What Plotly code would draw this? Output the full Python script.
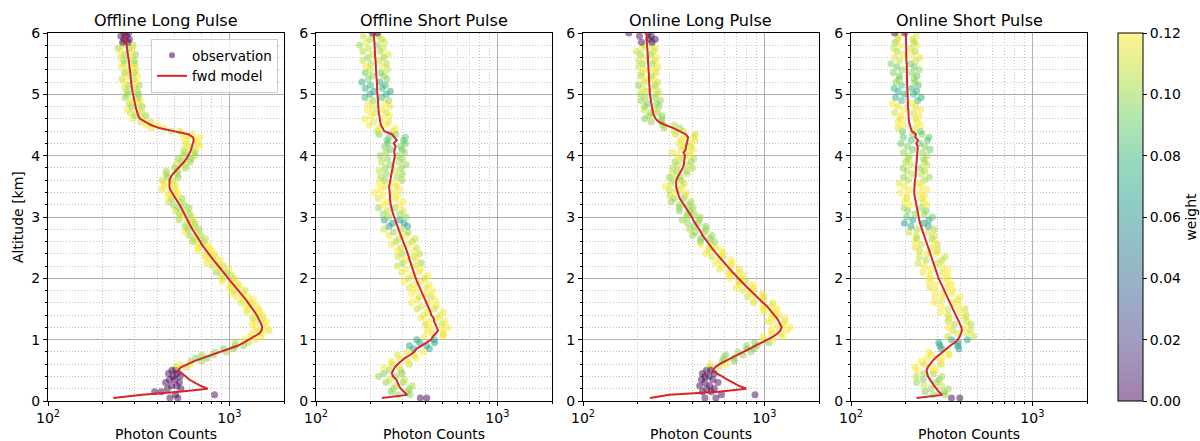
import math
import plotly.graph_objects as go

# ---------------- data ----------------
ALT = [round(0.05 * i, 2) for i in range(1, 121)]  # altitude bins [km], 0.05 .. 6.00

TITLES = ["Offline Long Pulse", "Offline Short Pulse", "Online Long Pulse", "Online Short Pulse"]

# forward model (photon counts) per panel
M1 = [229,330,530,760,690,640,600,575,545,522,
      540,585,640,710,790,880,1000,1110,1200,1280,
      1390,1460,1505,1515,1500,1475,1445,1415,1380,1345,
      1310,1270,1235,1195,1155,1120,1080,1045,1010,985,
      958,930,902,875,843,815,790,768,745,722,
      705,690,672,655,640,625,612,600,588,577,
      565,555,545,532,518,505,494,480,471,467,
      466,468,475,487,505,525,545,563,580,595,
      605,615,622,628,636,630,594,493,410,370,
      345,322,315,310,307,304,301,298,295,293,
      292,290,289,288,287,286,284,283,282,280,
      279,277,276,274,273,271,270,268,267,265]
O1A = [470,828,387,455,480,445,500,490,462,505,
       508,532,614,653,703,836,930,1077,1080,1203,
       1307,1329,1445,1394,1335,1401,1344,1373,1242,1264,
       1231,1156,1186,1099,1028,1064,1004,1014,909,926,
       901,846,866,805,750,774,735,745,671,679,
       663,628,645,603,570,594,569,582,529,542,
       531,505,523,489,461,480,459,466,424,439,
       438,426,456,448,449,499,507,546,522,559,
       569,560,597,578,566,599,552,478,369,348,
       324,293,302,285,273,289,280,289,266,275,
       274,264,277,265,255,272,264,275,254,263,
       262,252,265,252,243,257,258,262,252,263]
O1B = [520,505,421,540,512,530,468,535,515,482,
       578,608,704,753,814,959,1050,1199,1272,1382,
       1487,1518,1656,1606,1545,1608,1517,1528,1463,1453,
       1402,1321,1359,1267,1190,1221,1134,1129,1071,1064,
       1025,967,992,928,868,888,830,829,790,780,
       754,718,739,694,659,681,643,648,623,623,
       605,577,600,564,534,550,519,518,499,504,
       499,487,523,516,520,572,572,608,615,643,
       647,640,684,666,655,687,624,532,435,400,
       369,335,347,329,316,331,316,322,313,316,
       312,302,318,305,296,312,298,306,299,302,
       299,288,304,290,281,295,276,281,271,278]
W1 = [0,0,0,0,0,0,0,0,0,0,
      .11,.12,.10,.095,.10,.10,.095,.10,.105,.12,
      .12,.12,.115,.12,.12,.12,.11,.12,.115,.12,
      .12,.115,.12,.12,.12,.11,.12,.12,.12,.115,
      .11,.10,.12,.11,.12,.12,.115,.12,.12,.12,
      .12,.10,.11,.10,.12,.10,.10,.11,.10,.12,
      .10,.11,.10,.10,.11,.10,.12,.12,.115,.12,
      .12,.11,.10,.10,.105,.10,.11,.10,.10,.105,
      .10,.11,.12,.115,.12,.12,.12,.11,.12,.12,
      .11,.12,.10,.11,.12,.10,.11,.12,.10,.10,
      .10,.115,.10,.12,.11,.12,.10,.115,.12,.11,
      .10,.115,.10,.12,.105,.11,0,0,0,0]

M2 = [231,318,305,293,287,283,277,266,262,266,
      272,282,295,309,330,347,358,380,405,432,
      440,458,470,462,455,448,445,432,428,420,
      414,405,400,392,386,380,372,366,360,355,
      350,345,340,337,333,328,325,321,318,312,
      307,303,298,293,290,285,281,278,273,270,
      266,263,260,258,257,256,254,253,252,253,
      255,257,258,260,262,264,266,268,270,272,
      270,271,275,268,279,270,262,238,232,228,
      226,224,223,222,221,221,220,219,219,218,
      218,217,217,216,216,215,215,214,214,213,
      213,212,212,211,211,210,210,209,209,208]
O2A = [376,282,259,267,276,243,255,221,236,253,
       237,262,260,290,281,316,344,327,373,359,
       396,435,409,430,400,421,378,393,411,361,
       381,336,360,372,336,353,327,344,306,323,
       336,297,313,280,300,312,283,299,280,293,
       261,276,286,252,267,237,253,264,238,251,
       234,247,221,235,247,220,234,210,227,240,
       222,239,227,244,223,240,255,230,248,226,
       243,257,239,249,246,254,223,217,223,196,
       208,186,201,211,192,206,194,206,186,198,
       209,187,200,179,194,204,187,199,188,200,
       181,193,204,181,194,174,189,199,182,205]
O2B = [408,330,320,328,339,303,307,277,299,293,
       288,327,322,355,347,389,422,407,450,449,
       502,504,498,536,496,515,467,484,505,449,
       460,421,456,431,409,441,405,421,378,398,
       413,369,377,350,380,361,345,372,347,359,
       322,339,352,314,322,296,320,306,289,313,
       290,302,273,289,303,274,282,263,287,278,
       270,298,281,299,275,296,314,287,300,283,
       308,298,292,311,304,311,275,267,274,244,
       251,233,254,244,234,256,240,252,230,244,
       257,232,241,225,246,237,228,248,233,245,
       224,237,250,226,234,218,239,230,222,218]
W2 = [0,.10,.095,.10,.105,.10,.11,.10,.095,.10,
      .12,.11,.12,.12,.115,.12,.07,.068,.065,.07,
      .12,.115,.12,.12,.11,.12,.12,.115,.12,.11,
      .115,.12,.12,.11,.12,.12,.115,.12,.12,.11,
      .12,.115,.12,.11,.10,.12,.11,.105,.12,.11,
      .12,.105,.11,.12,.10,.11,.07,.065,.07,.10,
      .10,.11,.10,.12,.12,.115,.12,.12,.12,.115,
      .12,.10,.105,.10,.11,.10,.10,.105,.10,.10,
      .10,.09,.095,.09,.085,.09,.095,.11,.12,.12,
      .115,.12,.12,.11,.12,.115,.12,.10,.08,.075,
      .07,.075,.08,.075,.095,.10,.09,.11,.12,.105,
      .11,.10,.115,.105,.11,.10,.115,.105,.11,0]

M3 = [234,300,560,795,720,665,625,585,545,520,
      535,565,610,655,703,760,825,885,960,1045,
      1117,1180,1225,1245,1228,1200,1170,1135,1105,1070,
      1030,985,944,905,868,835,805,775,745,720,
      695,668,645,625,605,585,565,545,527,512,
      497,482,468,456,447,435,425,415,405,398,
      388,378,368,358,349,342,337,332,329,326,
      325,327,332,340,348,355,359,362,364,365,
      358,368,370,374,378,380,368,342,315,285,
      262,252,246,243,241,239,238,236,235,234,
      233,233,232,232,231,231,230,230,229,229,
      228,228,227,227,226,226,225,225,224,224]
O3A = [470,887,455,480,440,470,450,495,455,480,
       498,503,586,596,612,714,800,797,883,993,
       983,1097,1090,1195,1117,1044,1100,1101,995,984,
       979,867,878,805,833,760,700,729,723,648,
       639,635,568,581,538,562,514,474,495,497,
       447,443,445,401,416,387,408,378,352,374,
       376,340,339,340,307,318,300,319,299,284,
       306,317,299,313,331,312,334,322,349,332,
       311,346,359,337,348,361,324,318,280,274,
       238,219,231,236,217,220,226,208,219,208,
       224,212,202,218,224,208,212,219,202,213,
       203,219,207,197,212,219,210,230,205,179]
O3B = [540,580,510,530,500,555,520,470,530,505,
       562,616,683,681,759,844,875,912,1056,1118,
       1262,1239,1335,1394,1277,1296,1299,1203,1138,1177,
       1102,1113,991,986,972,868,869,860,790,742,
       765,715,729,656,659,655,588,589,585,543,
       512,530,501,515,469,474,476,432,437,442,
       411,389,405,383,394,359,367,372,342,352,
       361,347,342,374,372,401,377,395,408,380,
       387,408,392,385,416,407,416,359,343,319,
       272,272,273,258,248,263,255,267,247,255,
       261,242,251,258,245,238,253,246,259,240,
       249,255,236,245,251,240,240,250,238,228]
W3 = [0,0,0,0,0,0,0,0,0,0,
      .11,.12,.095,.10,.095,.10,.09,.10,.095,.12,
      .12,.115,.12,.12,.12,.115,.12,.12,.12,.12,
      .12,.115,.12,.11,.12,.115,.12,.12,.11,.12,
      .12,.12,.115,.12,.12,.12,.11,.12,.12,.115,
      .12,.10,.095,.10,.10,.105,.095,.10,.10,.10,
      .10,.095,.10,.10,.10,.10,.11,.12,.11,.12,
      .11,.105,.10,.11,.10,.105,.11,.10,.105,.12,
      .115,.12,.11,.12,.115,.12,.11,.115,.10,.105,
      .10,.095,.10,.10,.11,.10,.095,.10,.10,.105,
      .11,.115,.10,.11,.12,.105,.11,.12,.115,.10,
      .11,.12,.10,.11,.115,.11,0,0,0,0]

M4 = [230,318,305,294,287,280,272,266,263,261,
      265,272,281,292,305,320,336,352,372,388,
      398,404,409,406,400,394,386,378,371,364,
      357,350,343,337,331,325,319,313,308,304,
      300,296,292,289,285,281,277,273,269,266,
      262,259,256,252,249,246,243,240,238,236,
      234,232,230,228,226,225,224,223,223,223,
      224,225,227,227,228,228,229,230,230,231,
      232,233,233,229,234,226,228,216,213,210,
      209,208,208,207,207,206,206,206,205,205,
      205,204,204,204,204,203,203,203,203,203,
      202,202,202,202,202,201,201,201,201,200]
O4A = [358,285,256,276,253,230,250,229,252,232,
       225,253,244,263,278,269,316,310,305,357,
       342,388,364,345,372,343,347,344,312,342,
       314,287,316,290,318,289,271,291,268,274,
       273,249,274,254,234,259,238,262,239,226,
       244,225,230,229,209,231,214,197,219,203,
       225,206,196,212,197,203,204,187,210,196,
       184,207,195,218,203,194,213,200,207,210,
       195,219,205,188,215,194,219,192,181,195,
       182,187,189,174,195,181,169,190,176,197,
       182,173,190,177,184,185,171,191,179,166,
       186,174,194,180,172,187,175,181,183,174]
O4B = [398,330,326,344,316,294,307,317,284,292,
       281,313,312,318,348,342,393,387,391,438,
       474,436,458,430,460,437,421,431,397,426,
       393,368,388,401,357,364,338,360,342,331,
       342,317,342,318,299,318,330,295,301,282,
       301,287,279,287,266,288,267,252,269,281,
       253,260,244,262,251,245,255,239,261,245,
       235,254,270,245,255,242,263,255,251,263,
       248,273,256,240,264,269,246,242,226,242,
       232,227,237,221,242,227,216,233,244,221,
       230,216,235,226,222,231,217,238,223,213,
       228,240,218,226,214,231,223,219,229,198]
W4 = [0,.10,.095,.10,.11,.10,.095,.105,.10,.12,
      .12,.11,.12,.12,.115,.12,.065,.07,.065,.07,
      .11,.115,.11,.12,.105,.11,.115,.11,.12,.11,
      .12,.12,.115,.12,.12,.12,.115,.12,.12,.12,
      .12,.115,.12,.12,.11,.105,.11,.12,.11,.115,
      .11,.12,.105,.11,.11,.105,.07,.065,.07,.09,
      .10,.095,.10,.12,.12,.115,.12,.12,.12,.12,
      .115,.105,.10,.11,.105,.10,.11,.105,.10,.105,
      .10,.09,.095,.09,.085,.09,.095,.09,.115,.12,
      .12,.115,.12,.11,.12,.115,.12,.08,.075,.08,
      .075,.08,.085,.095,.10,.09,.095,.10,.09,.095,
      .11,.115,.12,.105,.11,.12,.10,.11,.115,0]

MODELS = [M1, M2, M3, M4]
OBS_A = [O1A, O2A, O3A, O4A]
OBS_B = [O1B, O2B, O3B, O4B]
WEIGHTS = [W1, W2, W3, W4]

X_TICKVALS = [100, 1000]
X_TICKTEXT = ["10<sup>2</sup>", "10<sup>3</sup>"]
X_MINOR = [200, 300, 400, 500, 600, 700, 800, 900, 2000]
Y_TICKS = [0, 1, 2, 3, 4, 5, 6]
W_TICKS = [0.00, 0.02, 0.04, 0.06, 0.08, 0.10, 0.12]

# ---------------- style ----------------
W, H = 1200, 441
FONT = "DejaVu Sans"
VIRIDIS = ['#440154', '#482878', '#3e4989', '#31688e', '#26828e',
           '#1f9e89', '#35b779', '#6ece58', '#b5de2b', '#fde725']


def rgba(h, a):
    h = h.lstrip('#')
    return f"rgba({int(h[0:2],16)},{int(h[2:4],16)},{int(h[4:6],16)},{a})"


CSCALE = [[i / (len(VIRIDIS) - 1), rgba(c, 0.5)] for i, c in enumerate(VIRIDIS)]
PANELS_PX = [(48, 284), (316, 552), (583, 819), (851, 1087)]
Y_TOP_PX, Y_BOT_PX = 33, 401
YDOM = [(H - Y_BOT_PX) / H, (H - Y_TOP_PX) / H]
RED = '#d62728'

fig = go.Figure()

for i in range(4):
    xa = 'x' if i == 0 else f'x{i+1}'
    ya = 'y' if i == 0 else f'y{i+1}'
    marker = dict(color=WEIGHTS[i] + WEIGHTS[i], colorscale=CSCALE, cmin=0, cmax=0.12,
                  size=7, line=dict(width=0), showscale=(i == 0))
    if i == 0:
        marker['colorbar'] = dict(
            x=1118 / W, xanchor='left', y=YDOM[0], yanchor='bottom', xpad=0, ypad=0,
            len=YDOM[1] - YDOM[0], lenmode='fraction', thickness=25, thicknessmode='pixels',
            outlinecolor='black', outlinewidth=1, ticks='outside', ticklen=4, tickcolor='black',
            tickvals=W_TICKS, ticktext=[f"{v:.2f}" for v in W_TICKS],
            tickfont=dict(family=FONT, size=14, color='black'),
            title=dict(text='weight', side='right', font=dict(family=FONT, size=14, color='black')))
    fig.add_trace(go.Scatter(x=OBS_A[i] + OBS_B[i], y=ALT + ALT, mode='markers', marker=marker,
                             showlegend=False, xaxis=xa, yaxis=ya, hoverinfo='skip'))
    fig.add_trace(go.Scatter(x=MODELS[i], y=ALT, mode='lines', line=dict(color=RED, width=2),
                             showlegend=False, xaxis=xa, yaxis=ya))

# legend entries
fig.add_trace(go.Scatter(x=[None], y=[None], mode='markers', name='observation',
                         marker=dict(color=rgba('#440154', 0.55), size=6), xaxis='x', yaxis='y'))
fig.add_trace(go.Scatter(x=[None], y=[None], mode='lines', name='fwd model',
                         line=dict(color=RED, width=2), xaxis='x', yaxis='y'))

layout = dict(width=W, height=H, margin=dict(l=0, r=0, t=0, b=0),
              paper_bgcolor='white', plot_bgcolor='white', template='none',
              font=dict(family=FONT, size=14, color='black'),
              legend=dict(x=278 / W, y=(H - 39) / H, xanchor='right', yanchor='top',
                          bgcolor='rgba(255,255,255,0.8)', bordercolor='#cccccc', borderwidth=1,
                          font=dict(family=FONT, size=13.5, color='black'), tracegroupgap=0,
                          itemwidth=30))
annotations = []
for i, (l, r) in enumerate(PANELS_PX):
    sfx = '' if i == 0 else str(i + 1)
    layout['xaxis' + sfx] = dict(
        type='log', range=[2, math.log10(2000)], domain=[l / W, r / W], anchor='y' + sfx,
        tickvals=X_TICKVALS, ticktext=X_TICKTEXT, ticks='outside', ticklen=4, tickcolor='black',
        showline=True, mirror=True, linecolor='black', linewidth=1, zeroline=False,
        showgrid=True, gridcolor='#b0b0b0', gridwidth=1,
        tickfont=dict(family=FONT, size=14, color='black'),
        minor=dict(tickvals=X_MINOR, ticks='outside', ticklen=2, tickcolor='black',
                   showgrid=True, gridcolor='#c4c4c4', griddash='1px,2px', gridwidth=1))
    layout['yaxis' + sfx] = dict(
        range=[0, 6], domain=YDOM, anchor='x' + sfx, tickvals=Y_TICKS,
        ticks='outside', ticklen=4, tickcolor='black',
        showline=True, mirror=True, linecolor='black', linewidth=1, zeroline=False,
        showgrid=True, gridcolor='#b0b0b0', gridwidth=1,
        tickfont=dict(family=FONT, size=14, color='black'),
        minor=dict(dtick=0.2, tick0=0, ticks='outside', ticklen=2, tickcolor='black',
                   showgrid=True, gridcolor='#c4c4c4', griddash='1px,2px', gridwidth=1))
    cx = (l + r) / 2 / W
    annotations.append(dict(text=TITLES[i], x=cx, y=(H - 20) / H, xref='paper', yref='paper',
                            showarrow=False, xanchor='center', yanchor='middle',
                            font=dict(family=FONT, size=16, color='black')))
    annotations.append(dict(text='Photon Counts', x=cx, y=(H - 434) / H, xref='paper', yref='paper',
                            showarrow=False, xanchor='center', yanchor='middle',
                            font=dict(family=FONT, size=14, color='black')))
annotations.append(dict(text='Altitude [km]', x=18 / W, y=(YDOM[0] + YDOM[1]) / 2, xref='paper',
                        yref='paper', showarrow=False, textangle=-90, xanchor='center',
                        yanchor='middle', font=dict(family=FONT, size=14, color='black')))
layout['annotations'] = annotations
fig.update_layout(**layout)

fig.write_html("out.html")
